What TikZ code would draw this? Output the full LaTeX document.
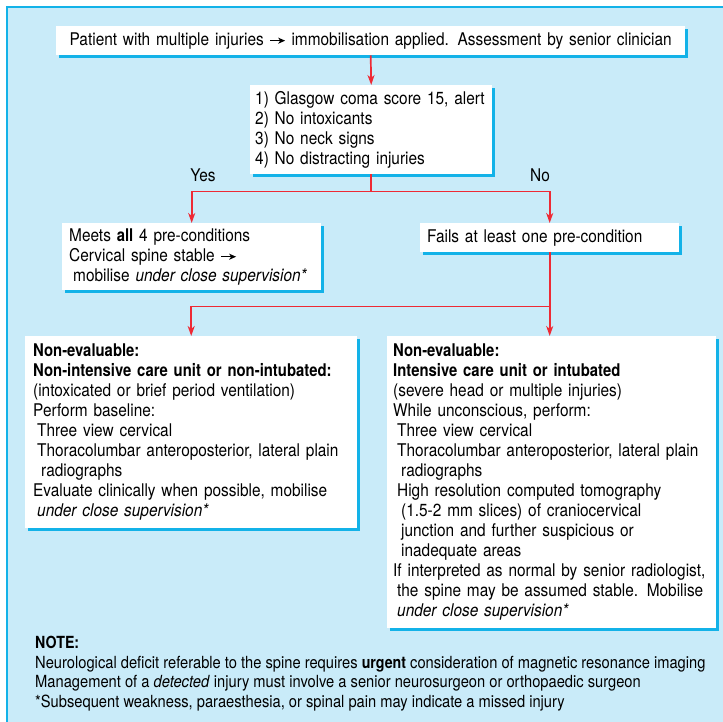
\documentclass[tikz,border=0pt]{standalone}
\usepackage{fontspec}
\setmainfont{TeX Gyre Heros}[FakeStretch=0.88,BoldFeatures={FakeStretch=0.85}]
\usetikzlibrary{arrows.meta,shadows}
\definecolor{bgblue}{HTML}{C9EBF9}
\definecolor{shadecyan}{HTML}{13B2E8}
\definecolor{flowred}{HTML}{EE2A35}
\hyphenpenalty=10000
\exhyphenpenalty=10000
\newcommand{\thenarrow}{\tikz[baseline=-4.5pt]\draw[line width=1.1pt,-{Stealth[length=7pt,width=6pt,inset=2pt]}] (0pt,0pt) -- (15pt,0pt);}

\begin{document}
\begin{tikzpicture}[x=1pt,y=-1pt,
  box/.style={fill=white,anchor=north west,inner xsep=7pt,inner ysep=0pt,align=left,
    font=\fontsize{17.5}{20}\selectfont,
    drop shadow={fill=shadecyan,opacity=1,shadow xshift=3pt,shadow yshift=-3pt}},
  lbl/.style={inner sep=0pt,font=\fontsize{17.5}{20}\selectfont},
  link/.style={flowred,line width=1.7pt},
  flow/.style={link,-{Stealth[length=10pt,width=7pt,inset=3pt]}}]
\useasboundingbox (0,0) rectangle (723,722);
\fill[bgblue] (7,7) rectangle (723,722);
\draw[shadecyan,line width=1.2pt] (7,722) -- (7,7) -- (723,7);

\node[box,align=center,inner xsep=2pt,text width=625pt,minimum height=29pt] (start) at (56,26) {Patient with multiple injuries \thenarrow\ immobilisation applied. Assessment by senior clinician};
\node[box,inner xsep=5pt,text width=232pt,minimum height=89pt] (crit) at (250,85) {1) Glasgow coma score 15, alert\\2) No intoxicants\\3) No neck signs\\4) No distracting injuries};
\node[box,text width=245pt,minimum height=67pt] (meets) at (62,223) {Meets \textbf{all} 4 pre-conditions\\Cervical spine stable \thenarrow\\\hspace*{4pt}mobilise \textit{under close supervision*}};
\node[box,text width=245pt,minimum height=29pt] (fails) at (420,223) {Fails at least one pre-condition};
\node[box,inner xsep=8pt,text width=316pt,minimum height=192pt] (nonicu) at (25,336) {\textbf{Non-evaluable:}\\
\textbf{Non-intensive care unit or non-intubated:}\\
(intoxicated or brief period ventilation)\\
Perform baseline:\\
\hspace*{4pt}Three view cervical\\
\hspace*{4pt}Thoracolumbar anteroposterior, lateral plain\\
\hspace*{8pt}radiographs\\
Evaluate clinically when possible, mobilise\\
\hspace*{4pt}\textit{under close supervision*}};
\node[box,inner xsep=6pt,text width=317pt,minimum height=292pt] (icu) at (387,336) {\textbf{Non-evaluable:}\\
\textbf{Intensive care unit or intubated}\\
(severe head or multiple injuries)\\
While unconscious, perform:\\
\hspace*{4pt}Three view cervical\\
\hspace*{4pt}Thoracolumbar anteroposterior, lateral plain\\
\hspace*{8pt}radiographs\\
\hspace*{4pt}High resolution computed tomography\\
\hspace*{8pt}(1.5-2 mm slices) of craniocervical\\
\hspace*{8pt}junction and further suspicious or\\
\hspace*{8pt}inadequate areas\\
If interpreted as normal by senior radiologist,\\
\hspace*{4pt}the spine may be assumed stable. Mobilise\\
\hspace*{4pt}\textit{under close supervision*}};
\node[anchor=north west,inner sep=0pt,align=left,font=\fontsize{16.7}{19.5}\selectfont] (note) at (35,636) {\textbf{NOTE:}\\
Neurological deficit referable to the spine requires \textbf{urgent} consideration of magnetic resonance imaging\\
Management of a \textit{detected} injury must involve a senior neurosurgeon or orthopaedic surgeon\\
*Subsequent weakness, paraesthesia, or spinal pain may indicate a missed injury};

\node[lbl] (yes) at (203,175) {Yes};
\node[lbl] (no) at (540,175) {No};

\path (crit.south) ++(0,17) coordinate (split);
\path (fails.south) ++(0,54) coordinate (split2);
\draw[flow] (start.south) -- (crit.north);
\draw[link] (crit.south) -- (split);
\draw[flow] (split) -| (meets.north);
\draw[flow] (split) -| (fails.north);
\draw[flow] (fails.south) -- (fails.south |- icu.north);
\draw[flow] (split2) -| (nonicu.north);
\end{tikzpicture}
\end{document}
